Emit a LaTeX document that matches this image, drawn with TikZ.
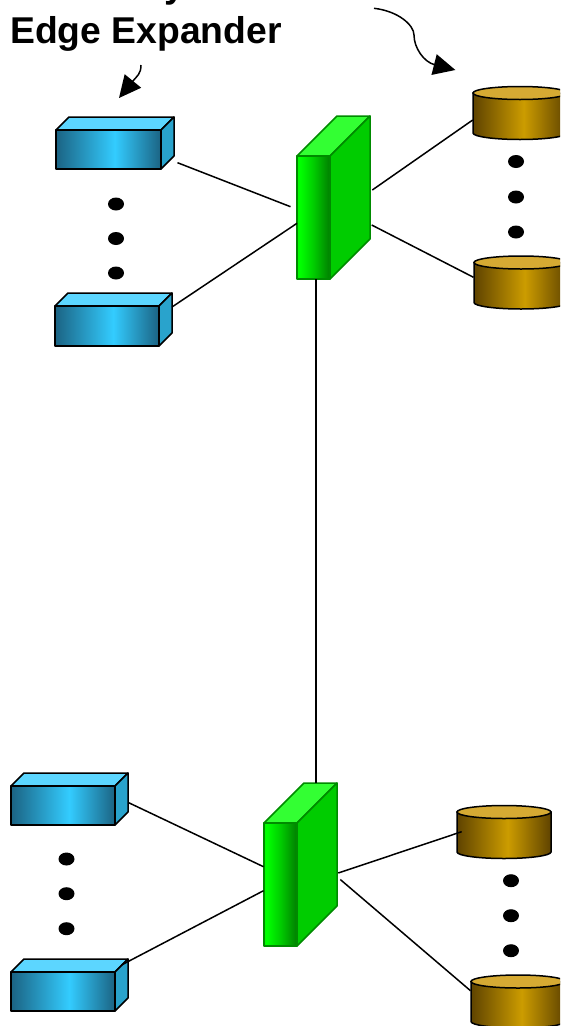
\documentclass[tikz,border=0pt]{standalone}
\usepackage{fontspec}
\setmainfont{Liberation Sans}
\usetikzlibrary{arrows.meta,shapes.geometric}
\definecolor{bdark}{HTML}{1B6383}
\definecolor{bmid}{HTML}{33CCFF}
\definecolor{btop}{HTML}{5CD6FF}
\definecolor{bside}{HTML}{29A3CC}
\definecolor{gmain}{HTML}{00FF00}
\definecolor{gdark}{HTML}{007F00}
\definecolor{gtop}{HTML}{33FF33}
\definecolor{gside}{HTML}{00CC00}
\definecolor{gedge}{HTML}{008A00}
\definecolor{cdark}{HTML}{5F4300}
\definecolor{cmid}{HTML}{CC9C00}
\definecolor{ctop}{HTML}{D6AA33}
\pgfdeclarehorizontalshading{blueh}{100bp}{color(0bp)=(bdark);color(25bp)=(bdark);color(53bp)=(bmid);color(75bp)=(bdark);color(100bp)=(bdark)}
\pgfdeclarehorizontalshading{greenh}{100bp}{color(0bp)=(gmain);color(30bp)=(gmain);color(50bp)=(gside);color(75bp)=(gdark);color(100bp)=(gdark)}
\pgfdeclarehorizontalshading{cylh}{100bp}{color(0bp)=(cdark);color(25bp)=(cdark);color(52bp)=(cmid);color(75bp)=(cdark);color(100bp)=(cdark)}
\tikzset{
  x=1pt,y=-1pt,
  wire/.style={draw=black,line width=1.5pt},
  curvearrow/.style={draw=black,line width=1.5pt,-{Triangle[length=22pt,width=21pt]}},
  bluefront/.style={draw=black,line width=1.5pt,shading=blueh,line join=round,inner sep=0pt,outer sep=0pt},
  blueface/.style={draw=black,line width=1.5pt,line join=round},
  greenfront/.style={draw=gedge,line width=1.5pt,shading=greenh,line join=round,inner sep=0pt,outer sep=0pt},
  greenface/.style={draw=gedge,line width=1.5pt,line join=round},
  cylbody/.style={draw=black,line width=1.5pt,shading=cylh},
  cyltop/.style={draw=black,line width=1.5pt,fill=ctop},
  dotmark/.style={fill=black,draw=none,ellipse,minimum width=16pt,minimum height=13pt,inner sep=0pt},
  title/.style={font=\bfseries\fontsize{37.3}{42}\selectfont,inner sep=0pt,anchor=base west},
}
% name, left, front top, right, bottom, depth
\newcommand{\bluebox}[6]{%
  \fill[btop,blueface] (#2,#3) -- (#2+#6,#3-#6) -- (#4+#6,#3-#6) -- (#4,#3) -- cycle;
  \fill[bside,blueface] (#4,#3) -- (#4+#6,#3-#6) -- (#4+#6,#5-#6) -- (#4,#5) -- cycle;
  \node[bluefront,rectangle,minimum width=#4pt-#2pt,minimum height=#5pt-#3pt] (#1) at ({(#2+#4)/2},{(#3+#5)/2}) {};
}
\newcommand{\greenbox}[6]{%
  \fill[gtop,greenface] (#2,#3) -- (#2+#6,#3-#6) -- (#4+#6,#3-#6) -- (#4,#3) -- cycle;
  \fill[gside,greenface] (#4,#3) -- (#4+#6,#3-#6) -- (#4+#6,#5-#6) -- (#4,#5) -- cycle;
  \node[greenfront,rectangle,minimum width=#4pt-#2pt,minimum height=#5pt-#3pt] (#1) at ({(#2+#4)/2},{(#3+#5)/2}) {};
}
% name, left, ellipse centre y
\newcommand{\cylinder}[3]{%
  \path[cylbody] (#2,#3) -- (#2,#3+40) arc[start angle=180,end angle=360,x radius=47pt,y radius=6.5pt] -- (#2+94,#3) -- cycle;
  \path[cyltop] (#2+47,#3) ellipse[x radius=47pt,y radius=6.5pt];
  \coordinate (#1) at (#2+47,#3+20);
}
\begin{document}
\begin{tikzpicture}
\useasboundingbox (0,0) rectangle (560,1026);
\clip (0,0) rectangle (560,1026);
\fill[white] (0,0) rectangle (560,1026);

\node[title] (topline) at (164,-3) {y};
\node[title] (expander) at (10,43) {Edge Expander};

\bluebox{b1}{56}{130}{161}{169}{13}
\bluebox{b2}{55}{306}{159}{346}{13}
\bluebox{b3}{11}{786}{115}{825}{13}
\bluebox{b4}{11}{972}{115}{1011}{13}
\greenbox{g1}{297}{156}{330}{279}{40}
\greenbox{g2}{264}{823}{297}{946}{40}
\cylinder{c1}{473}{93}
\cylinder{c2}{474}{262.5}
\cylinder{c3}{457}{812}
\cylinder{c4}{471}{981.5}

\foreach \n/\x/\y in {a1/116/204,a2/116/238.5,a3/116/273,
  d1/516/161.5,d2/516/197,d3/516/232,
  e1/66.5/859,e2/66.5/893.7,e3/66.5/928.7,
  f1/511/880.7,f2/511/915.7,f3/511/950.7}
  \node[dotmark] (\n) at (\x,\y) {};

\coordinate (p1s) at (177.5,162.7); \coordinate (p1e) at (290.5,206.7);
\coordinate (p2s) at (172,307);     \coordinate (p2e) at (297,223.3);
\coordinate (p3s) at (372.3,190);   \coordinate (p3e) at (472.7,120);
\coordinate (p4s) at (371.7,225);   \coordinate (p4e) at (473.5,277.3);
\coordinate (p5s) at (316,279);     \coordinate (p5e) at (316,783);
\coordinate (p6s) at (128.7,802.7); \coordinate (p6e) at (263.5,866.7);
\coordinate (p7s) at (121.5,965);   \coordinate (p7e) at (263.5,890.7);
\coordinate (p8s) at (338.3,873);   \coordinate (p8e) at (461.7,831.7);
\coordinate (p9s) at (340.3,879.5); \coordinate (p9e) at (470.5,990.7);
\foreach \i in {1,...,9} \draw[wire] (p\i s) -- (p\i e);

\coordinate (h1s) at (141,65);  \coordinate (h1t) at (119,98);
\coordinate (h2s) at (374,8.3); \coordinate (h2m) at (414,35); \coordinate (h2t) at (455.4,70);
\draw[curvearrow] (h1s) .. controls (141,74) and (137,76) .. (h1t);
\draw[curvearrow] (h2s) .. controls (398,11) and (414,25) .. (h2m) .. controls (414,48) and (424,62) .. (h2t);
\end{tikzpicture}
\end{document}
